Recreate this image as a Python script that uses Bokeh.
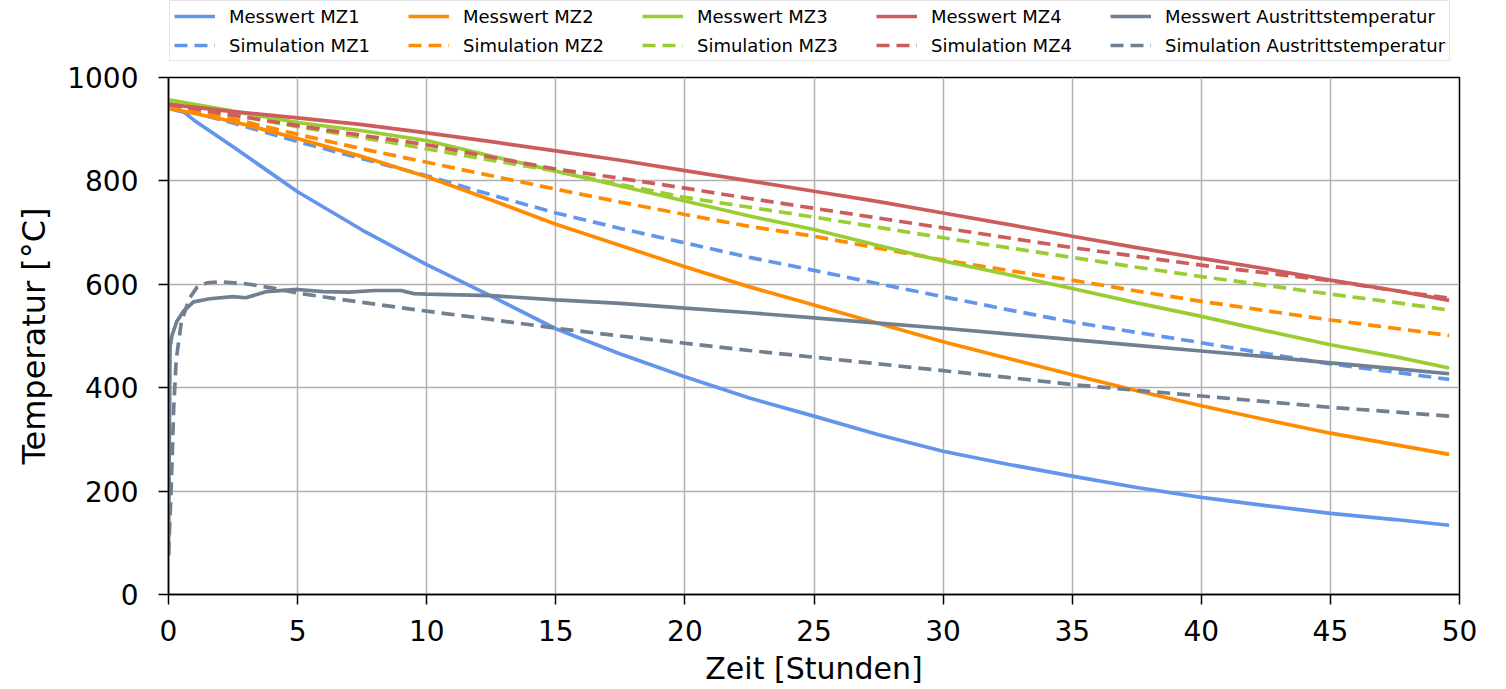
from bokeh.plotting import figure
from bokeh.models import Legend, LegendItem, FixedTicker, Range1d
from bokeh.layouts import column
from bokeh.embed import file_html
from bokeh.resources import INLINE

# ---------------- data ----------------
zeit = [0, 2.5, 5, 7.5, 10, 12.5, 15, 17.5, 20, 22.5, 25, 27.5, 30,
        32.5, 35, 37.5, 40, 42.5, 45, 47.5, 49.6]

zeit_mz1 = [0, 0.6, 1, 2.5, 5, 7.5, 10, 12.5, 15, 17.5, 20, 22.5, 25, 27.5,
            30, 32.5, 35, 37.5, 40, 42.5, 45, 47.5, 49.6]
mess_mz1 = [940, 933, 917, 866, 779, 705, 638, 577, 514, 465, 421, 380, 345,
            309, 277, 252, 229, 207, 188, 172, 157, 145, 134]
sim_mz1 = [945, 912, 876, 843, 810, 773, 738, 708, 680, 652, 627, 601, 576,
           551, 527, 507, 487, 466, 446, 430, 416]

mess_mz2 = [941, 915, 882, 847, 808, 763, 716, 675, 634, 595, 560, 524, 489,
            457, 425, 394, 365, 338, 312, 290, 271]
sim_mz2 = [945, 920, 890, 862, 836, 810, 784, 759, 735, 712, 693, 670, 647,
           627, 608, 587, 567, 549, 531, 515, 501]

mess_mz3 = [957, 935, 913, 897, 878, 848, 819, 790, 761, 732, 706, 675, 645,
            619, 592, 564, 538, 510, 483, 460, 438]
sim_mz3 = [950, 928, 905, 884, 862, 840, 819, 793, 768, 749, 730, 710, 690,
           671, 652, 633, 615, 598, 581, 565, 550]

mess_mz4 = [948, 934, 922, 909, 893, 876, 858, 840, 820, 800, 780, 760, 738,
            716, 693, 671, 650, 630, 608, 588, 569]
sim_mz4 = [948, 927, 907, 888, 870, 846, 823, 805, 786, 766, 747, 728, 709,
           690, 671, 654, 637, 622, 607, 588, 573]

zeit_aus_mess = [0, 0.03, 0.06, 0.13, 0.32, 0.58, 0.97, 1.6, 2.5, 3.0, 3.8,
                 5, 6, 7, 8, 9, 9.5, 10, 12.5, 15, 17.5, 20, 22.5, 25, 27.5,
                 30, 32.5, 35, 37.5, 40, 42.5, 45, 47.5, 49.6]
mess_aus = [76, 300, 479, 500, 528, 548, 566, 572, 576, 574, 586,
            590, 586, 585, 588, 588, 582, 581, 578, 570, 563, 554, 545, 535,
            525, 515, 504, 493, 482, 471, 460, 448, 437, 427]

zeit_aus_sim = [0, 0.1, 0.2, 0.3, 0.5, 0.8, 1.1, 1.5, 2, 3, 4, 5, 7.5, 10,
                12.5, 15, 17.5, 20, 22.5, 25, 27.5, 30, 32.5, 35, 37.5, 40,
                42.5, 45, 47.5, 49.6]
sim_aus = [76, 200, 360, 455, 528, 572, 594, 603, 605, 601, 593, 583, 565,
           548, 532, 515, 500, 486, 472, 459, 446, 433, 420, 406, 395, 384,
           373, 362, 353, 345]

x_ticks = [0, 5, 10, 15, 20, 25, 30, 35, 40, 45, 50]
y_ticks = [0, 200, 400, 600, 800, 1000]

FONT = "DejaVu Sans"
BLUE, ORANGE, GREEN, RED, GREY = "#6495ED", "#FF8C00", "#9ACD32", "#CD5C5C", "#708090"
LW = 3.7
DASH = "13 7"

series = [
    ("Messwert MZ1", zeit_mz1, mess_mz1, BLUE, "solid"),
    ("Simulation MZ1", zeit, sim_mz1, BLUE, DASH),
    ("Messwert MZ2", zeit, mess_mz2, ORANGE, "solid"),
    ("Simulation MZ2", zeit, sim_mz2, ORANGE, DASH),
    ("Messwert MZ3", zeit, mess_mz3, GREEN, "solid"),
    ("Simulation MZ3", zeit, sim_mz3, GREEN, DASH),
    ("Messwert MZ4", zeit, mess_mz4, RED, "solid"),
    ("Simulation MZ4", zeit, sim_mz4, RED, DASH),
    ("Messwert Austrittstemperatur", zeit_aus_mess, mess_aus, GREY, "solid"),
    ("Simulation Austrittstemperatur", zeit_aus_sim, sim_aus, GREY, DASH),
]

W = 1506
TOTAL_H = 689
LEG_H = 62

# ---------------- legend strip (above the plot) ----------------
# its ranges lie far outside the data, so only the legend is visible here
leg_fig = figure(width=W, height=LEG_H, output_backend="svg",
                 toolbar_location=None, x_axis_type=None, y_axis_type=None,
                 x_range=Range1d(-20, -10), y_range=Range1d(-20, -10),
                 min_border_left=168, min_border_right=47, min_border_top=0,
                 min_border_bottom=0, outline_line_color=None)
leg_fig.background_fill_color = "white"
leg_fig.border_fill_color = "white"

# ---------------- main plot ----------------
p = figure(width=W, height=TOTAL_H - LEG_H, output_backend="svg",
           toolbar_location=None,
           x_range=Range1d(0, 50), y_range=Range1d(0, 1000),
           min_border_left=168, min_border_right=47, min_border_top=15,
           min_border_bottom=95)

items = []
for name, xs, ys, col, dash in series:
    p.line(xs, ys, line_color=col, line_width=LW, line_dash=dash)
    h = leg_fig.line(xs, ys, line_color=col, line_width=LW, line_dash=dash)
    items.append(LegendItem(label=name, renderers=[h]))

legend = Legend(items=items, orientation="vertical", nrows=2,
                label_text_font=FONT, label_text_font_size="18px",
                label_text_color="#000000",
                glyph_width=41, glyph_height=22, label_height=22,
                label_width=172,
                label_standoff=14, spacing=7, padding=4, margin=0,
                border_line_color="#cccccc", border_line_width=1.5,
                background_fill_color="white", background_fill_alpha=1.0,
                location=(1, 1))
leg_fig.add_layout(legend, "center")

for ax in (p.xaxis[0], p.yaxis[0]):
    ax.major_label_text_font = FONT
    ax.major_label_text_font_size = "28px"
    ax.major_label_text_color = "#000000"
    ax.axis_label_text_font = FONT
    ax.axis_label_text_font_style = "normal"
    ax.axis_label_text_color = "#000000"
    ax.major_tick_in = 0
    ax.major_tick_out = 10
    ax.major_tick_line_width = 1.5
    ax.minor_tick_line_color = None
    ax.axis_line_width = 1.5
    ax.axis_line_color = "#000000"

p.xaxis[0].ticker = FixedTicker(ticks=x_ticks)
p.yaxis[0].ticker = FixedTicker(ticks=y_ticks)
p.xaxis[0].axis_label = "Zeit [Stunden]"
p.yaxis[0].axis_label = "Temperatur [°C]"
p.xaxis[0].axis_label_text_font_size = "30px"
p.yaxis[0].axis_label_text_font_size = "32px"
p.xaxis[0].major_label_standoff = 15
p.xaxis[0].axis_label_standoff = 7
p.yaxis[0].major_label_standoff = 20
p.yaxis[0].axis_label_standoff = 11

p.xgrid.grid_line_color = "#b0b0b0"
p.ygrid.grid_line_color = "#b0b0b0"
p.xgrid.grid_line_width = 1.5
p.ygrid.grid_line_width = 1.5
p.xgrid.ticker = FixedTicker(ticks=x_ticks)
p.ygrid.ticker = FixedTicker(ticks=y_ticks)

p.outline_line_color = "#000000"
p.outline_line_width = 1.5
p.background_fill_color = "white"
p.border_fill_color = "white"

layout = column(leg_fig, p, spacing=0)
open("out.html", "w").write(file_html(layout, INLINE))
